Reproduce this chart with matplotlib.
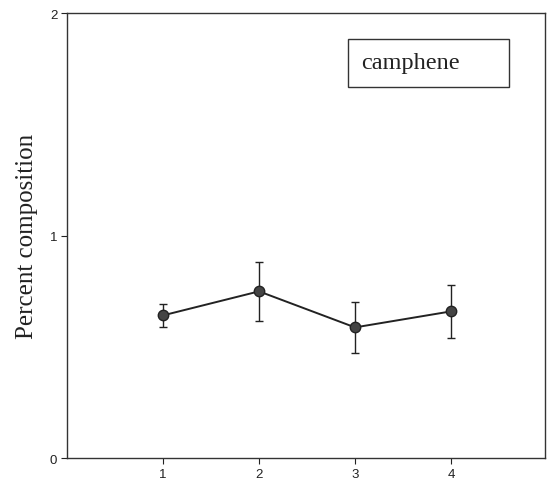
import matplotlib
matplotlib.use("Agg")
import matplotlib.pyplot as plt
from matplotlib.patches import Rectangle

groups = [1, 2, 3, 4]
means = [0.641, 0.749, 0.587, 0.659]
errors = [0.052, 0.134, 0.113, 0.118]
yticks = [0, 1, 2]
label_text = "camphene"
ylabel = "Percent composition"

fig = plt.figure(figsize=(5.49, 4.85), dpi=100)
ax = fig.add_axes([0.122, 0.0536, 0.871, 0.9175])

ax.errorbar(groups, means, yerr=errors, color="#222222", lw=1.4,
            marker="o", ms=7.5, mfc="#444444", mec="#222222",
            ecolor="#222222", elinewidth=1.0, capsize=3, capthick=1.0)

ax.set_xlim(0, 4.98)
ax.set_ylim(0, 2)
ax.set_xticks(groups)
ax.set_yticks(yticks)
ax.set_xticklabels([str(g) for g in groups], family="Liberation Sans", fontsize=9.5)
ax.set_yticklabels([str(t) for t in yticks], family="Liberation Sans", fontsize=9.5)
ax.tick_params(direction="out", length=4, width=0.8, colors="#222222", pad=3)
for s in ax.spines.values():
    s.set_linewidth(1.0)
    s.set_color("#333333")

ax.set_ylabel(ylabel, family="Liberation Serif", fontsize=18, color="#222222",
              va="center")
ax.yaxis.set_label_coords(-0.084, 0.5)

ax.add_patch(Rectangle((0.588, 0.834), 0.337, 0.108, transform=ax.transAxes,
                       fill=False, lw=1.0, ec="#333333"))
ax.text(0.615, 0.888, label_text, transform=ax.transAxes, family="Liberation Serif",
        fontsize=17.5, va="center", ha="left", color="#222222")

fig.savefig("out.png", dpi=100)
